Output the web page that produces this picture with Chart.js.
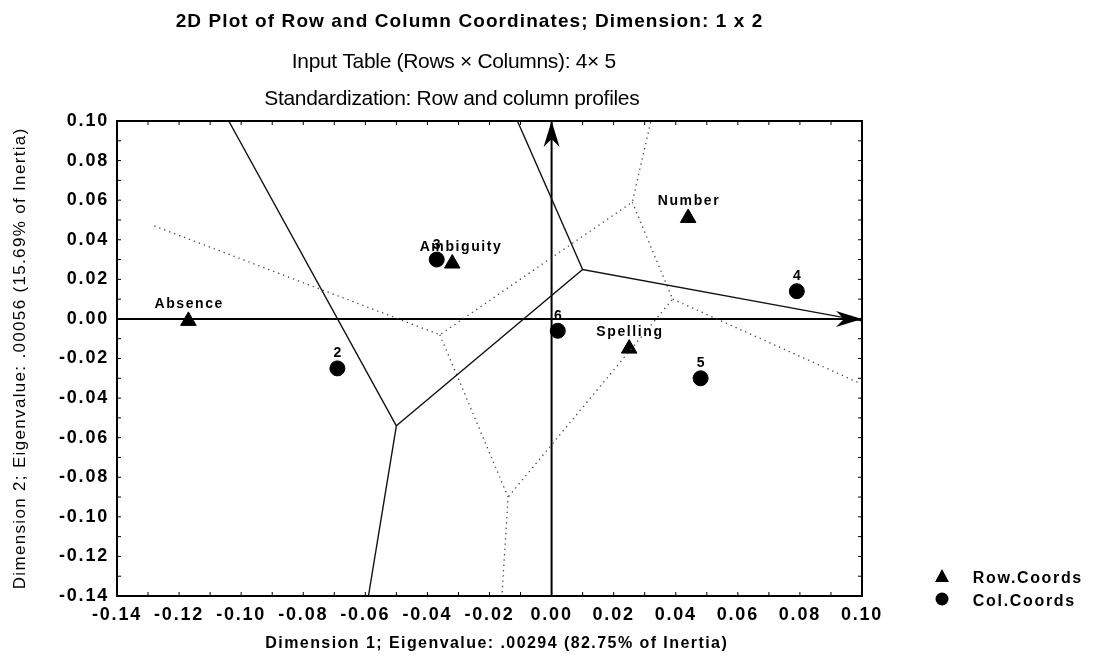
<!DOCTYPE html>
<html>
<head>
<meta charset="utf-8">
<script src="https://cdn.jsdelivr.net/npm/chart.js@4.4.1/dist/chart.umd.min.js"></script>
<style>
  html, body { margin: 0; padding: 0; background: #fff; }
  #wrap { width: 1097px; height: 662px; }
</style>
</head>
<body>
<div id="wrap"><canvas id="caChart" width="1097" height="662"></canvas></div>
<script>
// row points (triangles)
const rowNames = ["Absence", "Ambiguity", "Number", "Spelling"];
const rowX = [-0.117, -0.032, 0.044, 0.025];
const rowY = [-0.001, 0.028, 0.051, -0.015];

// column points (circles)
const colNames = ["2", "3", "4", "5", "6"];
const colX = [-0.069, -0.037, 0.079, 0.048, 0.002];
const colY = [-0.025, 0.030, 0.014, -0.030, -0.006];

// solid boundary lines (x, y pairs)
const solidA = [[-0.104, 0.10], [-0.050, -0.054], [-0.059, -0.14]];
const solidB = [[-0.050, -0.054], [0.010, 0.025], [0.10, -0.001]];
const solidC = [[-0.011, 0.10], [0.010, 0.025]];

// dotted boundary lines
const dotA = [[-0.128, 0.047], [-0.036, -0.008], [0.026, 0.059], [0.032, 0.10]];
const dotB = [[-0.036, -0.008], [-0.014, -0.090], [-0.016, -0.14]];
const dotC = [[0.026, 0.059], [0.039, 0.010], [-0.014, -0.090]];
const dotD = [[0.039, 0.010], [0.10, -0.033]];

const ticksX = [-0.14, -0.12, -0.10, -0.08, -0.06, -0.04, -0.02, 0.00, 0.02, 0.04, 0.06, 0.08, 0.10];
const ticksY = [-0.14, -0.12, -0.10, -0.08, -0.06, -0.04, -0.02, 0.00, 0.02, 0.04, 0.06, 0.08, 0.10];

const titleLines = [
    "2D Plot of Row and Column Coordinates; Dimension: 1 x 2",
    "Input Table (Rows \u00d7 Columns): 4\u00d7 5",
    "Standardization: Row and column profiles"
];
const xTitle = "Dimension 1; Eigenvalue: .00294 (82.75% of Inertia)";
const yTitle = "Dimension 2; Eigenvalue: .00056 (15.69% of Inertia)";

const FONT = "'Liberation Sans', Arial, sans-serif";
const NARROW = "'Liberation Sans Narrow', 'Liberation Sans', Arial, sans-serif";

function toPts(arr) { return arr.map(p => ({ x: p[0], y: p[1] })); }

function lineSet(arr, dotted) {
    return {
        type: 'scatter',
        data: toPts(arr),
        showLine: true,
        borderColor: dotted ? '#444' : '#111',
        borderWidth: dotted ? 1.3 : 1.4,
        borderDash: dotted ? [1.3, 4] : [],
        pointRadius: 0,
        fill: false
    };
}

const datasets = [
    lineSet(solidA, false), lineSet(solidB, false), lineSet(solidC, false),
    lineSet(dotA, true), lineSet(dotB, true), lineSet(dotC, true), lineSet(dotD, true),
    { type: 'scatter', data: [{ x: -0.14, y: 0 }, { x: 0.10, y: 0 }], showLine: true, borderColor: '#000', borderWidth: 2, pointRadius: 0 },
    { type: 'scatter', data: [{ x: 0, y: -0.14 }, { x: 0, y: 0.10 }], showLine: true, borderColor: '#000', borderWidth: 2, pointRadius: 0 },
    {
        label: "Row.Coords",
        data: rowX.map((x, i) => ({ x: x, y: rowY[i] })),
        pointStyle: 'triangle', pointRadius: 9, backgroundColor: '#000', borderColor: '#000'
    },
    {
        label: "Col.Coords",
        data: colX.map((x, i) => ({ x: x, y: colY[i] })),
        pointStyle: 'circle', pointRadius: 7.5, backgroundColor: '#000', borderColor: '#000'
    }
];

// draw text stretched/squeezed to a given width via letter spacing
function fitText(ctx, text, x, y, font, width) {
    ctx.font = font;
    ctx.letterSpacing = '0px';
    const w0 = ctx.measureText(text).width;
    const s = (width - w0) / text.length;
    ctx.letterSpacing = s.toFixed(2) + 'px';
    ctx.fillText(text, x + s / 2, y);
    ctx.letterSpacing = '0px';
}

// titles, labels, arrows, frame ticks, legend
const decor = {
    id: 'decor',
    beforeDraw(chart) {
        chart.ctx.letterSpacing = '1.8px';
    },
    afterDatasetsDraw(chart) {
        const ctx = chart.ctx;
        const a = chart.chartArea;
        const xs = chart.scales.x, ys = chart.scales.y;
        ctx.save();
        ctx.fillStyle = '#000';
        ctx.strokeStyle = '#000';

        // frame
        ctx.lineWidth = 2;
        ctx.strokeRect(a.left, a.top, a.right - a.left, a.bottom - a.top);

        // small inner ticks every 0.01
        ctx.lineWidth = 1;
        for (let i = 0; i <= 24; i++) {
            const v = -0.14 + i * 0.01;
            const px = xs.getPixelForValue(v), py = ys.getPixelForValue(v);
            ctx.beginPath();
            ctx.moveTo(px, a.top); ctx.lineTo(px, a.top + 4);
            ctx.moveTo(px, a.bottom); ctx.lineTo(px, a.bottom - 4);
            ctx.moveTo(a.left, py); ctx.lineTo(a.left + 4, py);
            ctx.moveTo(a.right, py); ctx.lineTo(a.right - 4, py);
            ctx.stroke();
        }

        // arrow heads
        const ox = xs.getPixelForValue(0), oy = ys.getPixelForValue(0);
        ctx.beginPath();
        ctx.moveTo(ox, a.top);
        ctx.lineTo(ox - 8, a.top + 26);
        ctx.lineTo(ox, a.top + 18);
        ctx.lineTo(ox + 8, a.top + 26);
        ctx.closePath();
        ctx.fill();
        ctx.beginPath();
        ctx.moveTo(a.right, oy);
        ctx.lineTo(a.right - 26, oy - 8);
        ctx.lineTo(a.right - 18, oy);
        ctx.lineTo(a.right - 26, oy + 8);
        ctx.closePath();
        ctx.fill();

        // point labels
        ctx.textAlign = 'center';
        ctx.textBaseline = 'alphabetic';
        ctx.font = "bold 14px " + FONT;
        ctx.letterSpacing = '1.6px';
        rowNames.forEach((n, i) => {
            const dx = n === "Ambiguity" ? 8 : 0;
            ctx.fillText(n, xs.getPixelForValue(rowX[i]) + dx + 0.8, ys.getPixelForValue(rowY[i]) - 13);
        });
        ctx.font = "bold 14px " + FONT;
        ctx.letterSpacing = '0px';
        colNames.forEach((n, i) => {
            ctx.fillText(n, xs.getPixelForValue(colX[i]), ys.getPixelForValue(colY[i]) - 11);
        });

        // titles
        fitText(ctx, titleLines[0], 469, 27, "bold 19px " + FONT, 588);
        fitText(ctx, titleLines[1], 454, 68, "21px " + NARROW, 324);
        fitText(ctx, titleLines[2], 452, 105, "21px " + NARROW, 375);

        // axis titles
        fitText(ctx, xTitle, 496, 648, "bold 16px " + FONT, 463);
        ctx.save();
        ctx.translate(25, 359);
        ctx.rotate(-Math.PI / 2);
        fitText(ctx, yTitle, 0, 0, "17px " + FONT, 462);
        ctx.restore();

        // legend
        ctx.beginPath();
        ctx.moveTo(942, 569); ctx.lineTo(949, 582); ctx.lineTo(935, 582);
        ctx.closePath(); ctx.fill();
        ctx.beginPath();
        ctx.arc(942, 599, 6.5, 0, Math.PI * 2); ctx.fill();
        ctx.textAlign = 'left';
        fitText(ctx, "Row.Coords", 972, 583, "bold 16px " + FONT, 110);
        fitText(ctx, "Col.Coords", 972, 606, "bold 16px " + FONT, 103);
        ctx.restore();
    },
    afterDraw(chart) {
        chart.ctx.letterSpacing = '0px';
    }
};

const fmt = v => (Math.abs(v) < 1e-9 ? "0.00" : Number(v).toFixed(2));

new Chart(document.getElementById('caChart').getContext('2d'), {
    type: 'scatter',
    data: { datasets: datasets },
    options: {
        responsive: false,
        animation: false,
        events: [],
        layout: { padding: { top: 121, right: 235, left: 0, bottom: 0 } },
        plugins: { legend: { display: false }, tooltip: { enabled: false }, title: { display: false } },
        scales: {
            x: {
                type: 'linear', min: -0.14, max: 0.10,
                afterBuildTicks: s => { s.ticks = ticksX.map(v => ({ value: v })); },
                afterFit: s => { s.height = 66; },
                grid: { display: false, drawTicks: false },
                border: { display: false },
                ticks: { callback: fmt, color: '#000', font: { family: FONT, size: 18, weight: 'bold' }, padding: 8, maxRotation: 0, autoSkip: false }
            },
            y: {
                type: 'linear', min: -0.14, max: 0.10,
                afterBuildTicks: s => { s.ticks = ticksY.map(v => ({ value: v })); },
                afterFit: s => { s.width = 117; },
                grid: { display: false, drawTicks: false },
                border: { display: false },
                ticks: { callback: fmt, color: '#000', font: { family: FONT, size: 18, weight: 'bold' }, padding: 8, autoSkip: false }
            }
        }
    },
    plugins: [decor]
});
</script>
</body>
</html>
